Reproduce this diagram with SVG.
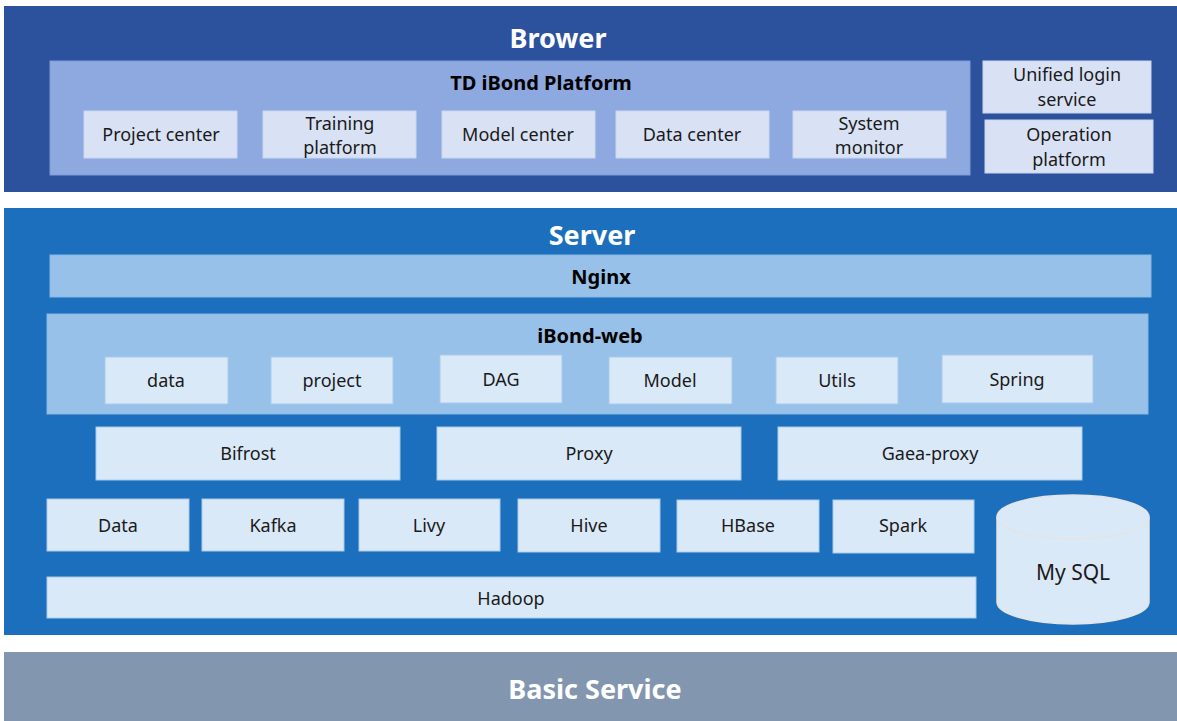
<svg xmlns="http://www.w3.org/2000/svg" width="1177" height="721" viewBox="0 0 1177 721">
<style>
text{font-family:"Noto Sans","Open Sans","DejaVu Sans",sans-serif;text-anchor:middle;dominant-baseline:central}
.layer-title{fill:#fff;font-weight:bold;font-size:27px}
.sub-title{fill:#000;font-weight:bold;font-size:20px}
.lbl{fill:#1a1a1a;font-size:18px}
.b1{fill:#2C519D}
.b2{fill:#8DA9E0;stroke:#7F9DD6;stroke-width:1}
.b3{fill:#D9E2F4;stroke:#C9D5EE;stroke-width:1}
.s1{fill:#1B6FBC}
.s2{fill:#97C1E8;stroke:#8AB7E2;stroke-width:1}
.s3{fill:#DAE9F7;stroke:#A8CBEC;stroke-width:1}
.basic{fill:#8296B0}
</style>
<rect width="1177" height="721" fill="#fff"/>
<g id="brower">
  <rect class="b1" x="4" y="6" width="1173" height="186"/>
  <text class="layer-title" x="558" y="37">Brower</text>
</g>
<g id="td-ibond-platform">
  <rect class="b2" x="50" y="61" width="920" height="114"/>
  <text class="sub-title" x="541" y="82">TD iBond Platform</text>
</g>
<g id="project-center">
  <rect class="b3" x="84" y="111" width="153" height="47"/>
  <text class="lbl" x="161" y="134">Project center</text>
</g>
<g id="training-platform">
  <rect class="b3" x="263" y="111" width="153" height="47"/>
  <text class="lbl" x="340" y="123">Training</text>
  <text class="lbl" x="340" y="147">platform</text>
</g>
<g id="model-center">
  <rect class="b3" x="442" y="111" width="153" height="47"/>
  <text class="lbl" x="518" y="134">Model center</text>
</g>
<g id="data-center">
  <rect class="b3" x="616" y="111" width="153" height="47"/>
  <text class="lbl" x="692" y="134">Data center</text>
</g>
<g id="system-monitor">
  <rect class="b3" x="793" y="111" width="153" height="47"/>
  <text class="lbl" x="869" y="123">System</text>
  <text class="lbl" x="869" y="147">monitor</text>
</g>
<g id="unified-login-service">
  <rect class="b3" x="983" y="61" width="168" height="52"/>
  <text class="lbl" x="1067" y="74">Unified login</text>
  <text class="lbl" x="1067" y="99">service</text>
</g>
<g id="operation-platform">
  <rect class="b3" x="985" y="120" width="168" height="53"/>
  <text class="lbl" x="1069" y="134">Operation</text>
  <text class="lbl" x="1069" y="159">platform</text>
</g>

<g id="server">
  <rect class="s1" x="4" y="208" width="1173" height="427"/>
  <text class="layer-title" x="592" y="234">Server</text>
</g>
<g id="nginx">
  <rect class="s2" x="50" y="255" width="1101" height="42"/>
  <text class="sub-title" x="601" y="276">Nginx</text>
</g>
<g id="ibond-web">
  <rect class="s2" x="47" y="314" width="1101" height="100"/>
  <text class="sub-title" x="590" y="335">iBond-web</text>
</g>
<g id="web-data">
  <rect class="s3" x="105" y="357" width="123" height="47"/>
  <text class="lbl" x="166" y="380">data</text>
</g>
<g id="web-project">
  <rect class="s3" x="271" y="357" width="122" height="47"/>
  <text class="lbl" x="332" y="380">project</text>
</g>
<g id="web-dag">
  <rect class="s3" x="440" y="355" width="122" height="48"/>
  <text class="lbl" x="501" y="379">DAG</text>
</g>
<g id="web-model">
  <rect class="s3" x="609" y="357" width="123" height="47"/>
  <text class="lbl" x="670" y="380">Model</text>
</g>
<g id="web-utils">
  <rect class="s3" x="776" y="357" width="122" height="47"/>
  <text class="lbl" x="837" y="380">Utils</text>
</g>
<g id="web-spring">
  <rect class="s3" x="942" y="355" width="151" height="48"/>
  <text class="lbl" x="1017" y="379">Spring</text>
</g>
<g id="bifrost">
  <rect class="s3" x="96" y="427" width="304" height="53"/>
  <text class="lbl" x="248" y="453">Bifrost</text>
</g>
<g id="proxy">
  <rect class="s3" x="437" y="427" width="304" height="53"/>
  <text class="lbl" x="589" y="453">Proxy</text>
</g>
<g id="gaea-proxy">
  <rect class="s3" x="778" y="427" width="304" height="53"/>
  <text class="lbl" x="930" y="453">Gaea-proxy</text>
</g>
<g id="data">
  <rect class="s3" x="47" y="499" width="142" height="52"/>
  <text class="lbl" x="118" y="525">Data</text>
</g>
<g id="kafka">
  <rect class="s3" x="202" y="499" width="142" height="52"/>
  <text class="lbl" x="273" y="525">Kafka</text>
</g>
<g id="livy">
  <rect class="s3" x="359" y="499" width="141" height="52"/>
  <text class="lbl" x="429" y="525">Livy</text>
</g>
<g id="hive">
  <rect class="s3" x="518" y="499" width="142" height="53"/>
  <text class="lbl" x="589" y="525">Hive</text>
</g>
<g id="hbase">
  <rect class="s3" x="677" y="500" width="142" height="52"/>
  <text class="lbl" x="748" y="525">HBase</text>
</g>
<g id="spark">
  <rect class="s3" x="833" y="500" width="141" height="53"/>
  <text class="lbl" x="903" y="525">Spark</text>
</g>
<g id="hadoop">
  <rect class="s3" x="47" y="577" width="929" height="41"/>
  <text class="lbl" x="511" y="598">Hadoop</text>
</g>
<g id="mysql">
  <path d="M997,517 A76,22 0 0 1 1149,517 L1149,602 A76,22 0 0 1 997,602 Z" fill="#DAE9F7" stroke="#E4E4E4" stroke-width="1.5"/>
  <path d="M997,517 A76,22 0 0 0 1149,517" fill="none" stroke="#E4E4E4" stroke-width="1.5"/>
  <text class="lbl" x="1073" y="572" style="font-size:21px">My SQL</text>
</g>

<g id="basic-service">
  <rect class="basic" x="4" y="652" width="1173" height="69"/>
  <text class="layer-title" x="595" y="688">Basic Service</text>
</g>
<g id="connectors"/>
</svg>
